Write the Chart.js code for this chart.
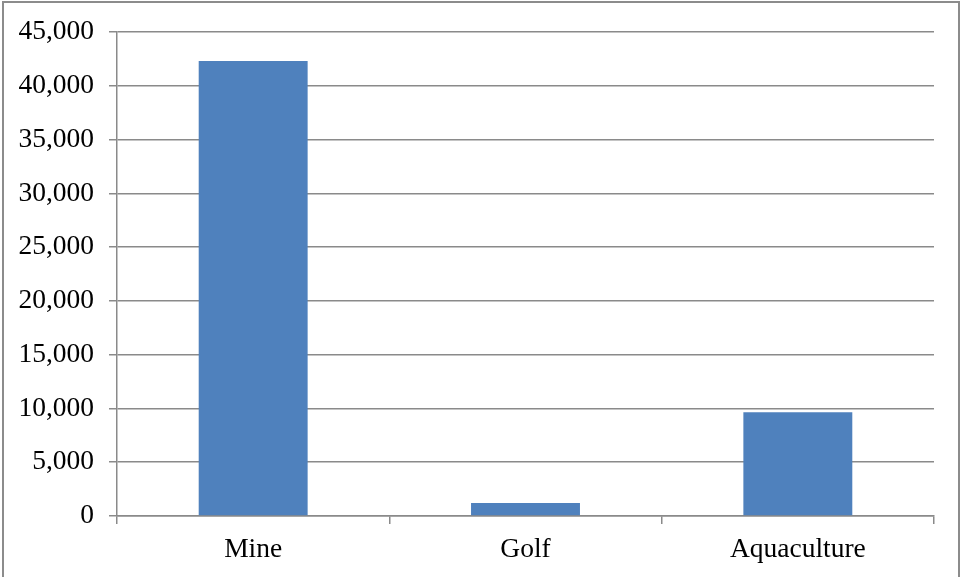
<!DOCTYPE html>
<html>
<head>
<meta charset="utf-8">
<script src="https://cdn.jsdelivr.net/npm/chart.js@4/dist/chart.umd.min.js"></script>
<style>
  html, body { margin: 0; padding: 0; background: #ffffff; overflow: hidden; }
  #frame {
    position: absolute; left: 2px; top: 1px; width: 958px; height: 640px;
    border: 2px solid #8c8c8c; box-sizing: border-box;
  }
  #wrap { position: absolute; left: 0; top: 0; width: 964px; height: 577px; }
</style>
</head>
<body>
<div id="frame"></div>
<div id="wrap"><canvas id="chart" width="964" height="577"></canvas></div>
<script>
// Categories and their values
const categories = ['Mine', 'Golf', 'Aquaculture'];
const values = [42300, 1220, 9650];

// Value axis range and step
const yMin = 0;
const yMax = 45000;
const yStep = 5000;

const barColor = '#4f81bd';
const gridColor = '#8a8a8a';
const serif = "'Liberation Serif', 'Times New Roman', serif";

new Chart(document.getElementById('chart'), {
  type: 'bar',
  data: {
    labels: categories,
    datasets: [{
      data: values,
      backgroundColor: barColor,
      borderWidth: 0,
      barPercentage: 0.4,
      categoryPercentage: 1.0
    }]
  },
  options: {
    responsive: false,
    animation: false,
    events: [],
    layout: { padding: { top: 32, right: 30, left: 0, bottom: 0 } },
    plugins: { legend: { display: false }, tooltip: { enabled: false } },
    scales: {
      x: {
        offset: true,
        grid: {
          offset: true,
          drawOnChartArea: false,
          drawTicks: true,
          tickLength: 8,
          color: gridColor,
          lineWidth: 1.5
        },
        border: { color: gridColor, width: 1.5 },
        ticks: {
          color: '#000000',
          padding: 9,
          font: { family: serif, size: 27.5 }
        },
        afterFit: (scale) => { scale.height = 61; }
      },
      y: {
        min: yMin,
        max: yMax,
        ticks: {
          stepSize: yStep,
          color: '#000000',
          padding: 15,
          font: { family: serif, size: 27.5 },
          callback: (v) => Number(v).toLocaleString('en-US')
        },
        grid: {
          color: gridColor,
          lineWidth: 1.5,
          tickLength: 8
        },
        border: { color: gridColor, width: 1.5 },
        afterFit: (scale) => { scale.width = 117; }
      }
    }
  }
});
</script>
</body>
</html>
